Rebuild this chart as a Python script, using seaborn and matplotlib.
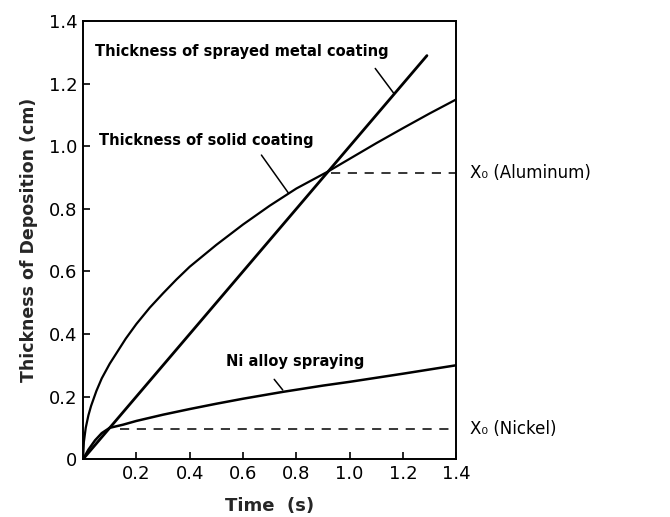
import matplotlib
matplotlib.use("Agg")
import matplotlib.pyplot as plt
import seaborn as sns

# Deposition thickness (cm) versus time (s)
time_sprayed = [0.0, 1.29]
thick_sprayed = [0.0, 1.29]

time_solid = [0.0, 0.003, 0.01, 0.02, 0.03, 0.05, 0.07, 0.1, 0.13, 0.16, 0.2,
              0.25, 0.3, 0.35, 0.4, 0.5, 0.6, 0.7, 0.8, 0.92, 1.0, 1.1, 1.2,
              1.3, 1.4]
thick_solid = [0.0, 0.055, 0.1, 0.14, 0.17, 0.218, 0.258, 0.305, 0.345, 0.385,
               0.432, 0.484, 0.53, 0.574, 0.615, 0.685, 0.75, 0.81, 0.865,
               0.92, 0.96, 1.01, 1.058, 1.105, 1.15]

time_ni = [0.0, 0.02, 0.045, 0.07, 0.1, 0.15, 0.2, 0.3, 0.4, 0.5, 0.6, 0.75,
           0.9, 1.0, 1.2, 1.4]
thick_ni = [0.0, 0.03, 0.06, 0.083, 0.1, 0.11, 0.122, 0.142, 0.16, 0.177,
            0.193, 0.215, 0.235, 0.247, 0.273, 0.30]

# Critical thickness X0 and the time from which it is drawn
x0_aluminum = 0.915
x0_aluminum_start = 0.93
x0_nickel = 0.097
x0_nickel_start = 0.14

x_ticks = [0.2, 0.4, 0.6, 0.8, 1.0, 1.2, 1.4]
x_tick_labels = ["0.2", "0.4", "0.6", "0.8", "1.0", "1.2", "1.4"]
y_ticks = [0.0, 0.2, 0.4, 0.6, 0.8, 1.0, 1.2, 1.4]
y_tick_labels = ["0", "0.2", "0.4", "0.6", "0.8", "1.0", "1.2", "1.4"]

sns.set_theme(style="ticks")
plt.rcParams["font.family"] = ["DejaVu Sans"]

fig = plt.figure(figsize=(6.7, 5.17), dpi=100)
ax = fig.add_axes([0.124, 0.112, 0.557, 0.847])

sns.lineplot(x=time_sprayed, y=thick_sprayed, ax=ax, color="black",
             linewidth=2.0, estimator=None, sort=False)
sns.lineplot(x=time_solid, y=thick_solid, ax=ax, color="black",
             linewidth=1.6, estimator=None, sort=False)
sns.lineplot(x=time_ni, y=thick_ni, ax=ax, color="black",
             linewidth=1.8, estimator=None, sort=False)

# X0 reference levels
ax.plot([x0_aluminum_start, 1.4], [x0_aluminum, x0_aluminum], color="black",
        linewidth=1.1, dashes=(6, 5))
ax.plot([x0_nickel_start, 1.4], [x0_nickel, x0_nickel], color="black",
        linewidth=1.1, dashes=(6, 5))

ax.set_xlim(0, 1.4)
ax.set_ylim(0, 1.4)
ax.set_xticks(x_ticks)
ax.set_xticklabels(x_tick_labels)
ax.set_yticks(y_ticks)
ax.set_yticklabels(y_tick_labels)
ax.tick_params(direction="in", length=5, width=1.2, labelsize=13,
               colors="black", pad=4)
for side in ["top", "right", "left", "bottom"]:
    ax.spines[side].set_visible(True)
    ax.spines[side].set_color("black")
    ax.spines[side].set_linewidth(1.4)

ax.set_xlabel("Time  (s)", fontsize=13, fontweight="bold", labelpad=10)
ax.set_ylabel("Thickness of Deposition (cm)", fontsize=12.5,
              fontweight="bold", labelpad=8)

label_kw = dict(fontsize=10.5, fontweight="bold", color="black", va="center")
ax.text(0.044, 1.302, "Thickness of sprayed metal coating", **label_kw)
ax.text(0.06, 1.02, "Thickness of solid coating", **label_kw)
ax.text(0.535, 0.311, "Ni alloy spraying", **label_kw)

# Leader lines from labels to curves
ax.plot([1.096, 1.166], [1.249, 1.169], color="black", linewidth=1.1)
ax.plot([0.669, 0.77], [0.972, 0.851], color="black", linewidth=1.1)
ax.plot([0.717, 0.749], [0.255, 0.221], color="black", linewidth=1.1)

side_kw = dict(fontsize=12, color="black", va="center", ha="left",
               clip_on=False)
ax.text(1.45, x0_aluminum, "X₀ (Aluminum)", **side_kw)
ax.text(1.45, x0_nickel, "X₀ (Nickel)", **side_kw)

fig.savefig("out.png", dpi=100)
